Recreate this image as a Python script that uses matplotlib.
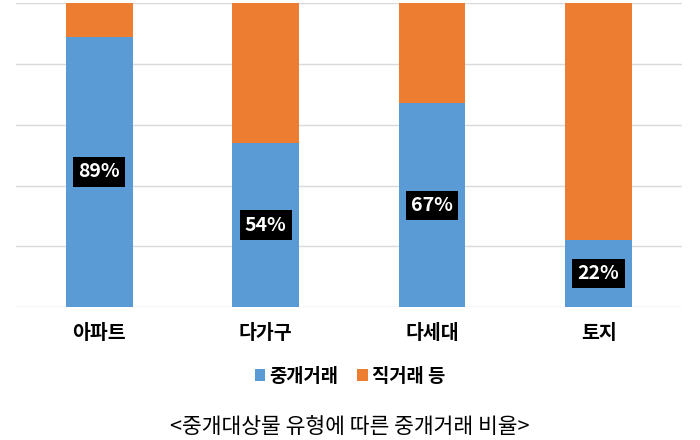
import numpy as np
import matplotlib.pyplot as plt

plt.rcParams['font.family'] = ['Noto Sans CJK KR', 'DejaVu Sans']

# 중개대상물 유형별 거래 비율 (%)
categories = ['아파트', '다가구', '다세대', '토지']
broker = [89, 54, 67, 22]      # 중개거래
direct = [11, 46, 33, 78]      # 직거래 등
series_names = ['중개거래', '직거래 등']
caption = '<중개대상물 유형에 따른 중개거래 비율>'

blue = '#5B9BD5'
orange = '#ED7D31'

fig = plt.figure(figsize=(7, 4.4), dpi=100)
ax = fig.add_axes([0.023, 0.302, 0.951, 0.691])

x = np.arange(len(categories))
b1 = ax.bar(x, broker, width=0.4, color=blue, label=series_names[0], zorder=2)
b2 = ax.bar(x, direct, width=0.4, bottom=broker, color=orange, label=series_names[1], zorder=2)

# 막대 안의 퍼센트 라벨
for xi, v in zip(x, broker):
    ax.text(xi, v / 2, f'{v}%', ha='center', va='center', color='white',
            fontsize=14, fontweight='bold',
            bbox=dict(boxstyle='square,pad=0.27', fc='black', ec='none'), zorder=3)

ax.set_xlim(-0.5, 3.5)
ax.set_ylim(0, 100)
ax.set_yticks([0, 20, 40, 60, 80, 100])
ax.yaxis.grid(True, color='#d9d9d9', linewidth=1, zorder=0)
ax.tick_params(axis='y', left=False, labelleft=False)
ax.tick_params(axis='x', bottom=False, pad=9)
ax.set_xticks(x)
ax.set_xticklabels(categories, fontsize=14, fontweight='bold')
for s in ax.spines.values():
    s.set_visible(False)

fig.legend(handles=[b1, b2], loc='center', bbox_to_anchor=(0.5, 0.145), ncol=2,
           frameon=False, handlelength=0.55, handleheight=0.55, handletextpad=0.25,
           columnspacing=1.0, prop={'size': 13.5, 'weight': 'bold'})

fig.text(0.5, 0.03, caption, ha='center', va='center', fontsize=15.5)

fig.savefig('out.png', dpi=100, facecolor='white')
